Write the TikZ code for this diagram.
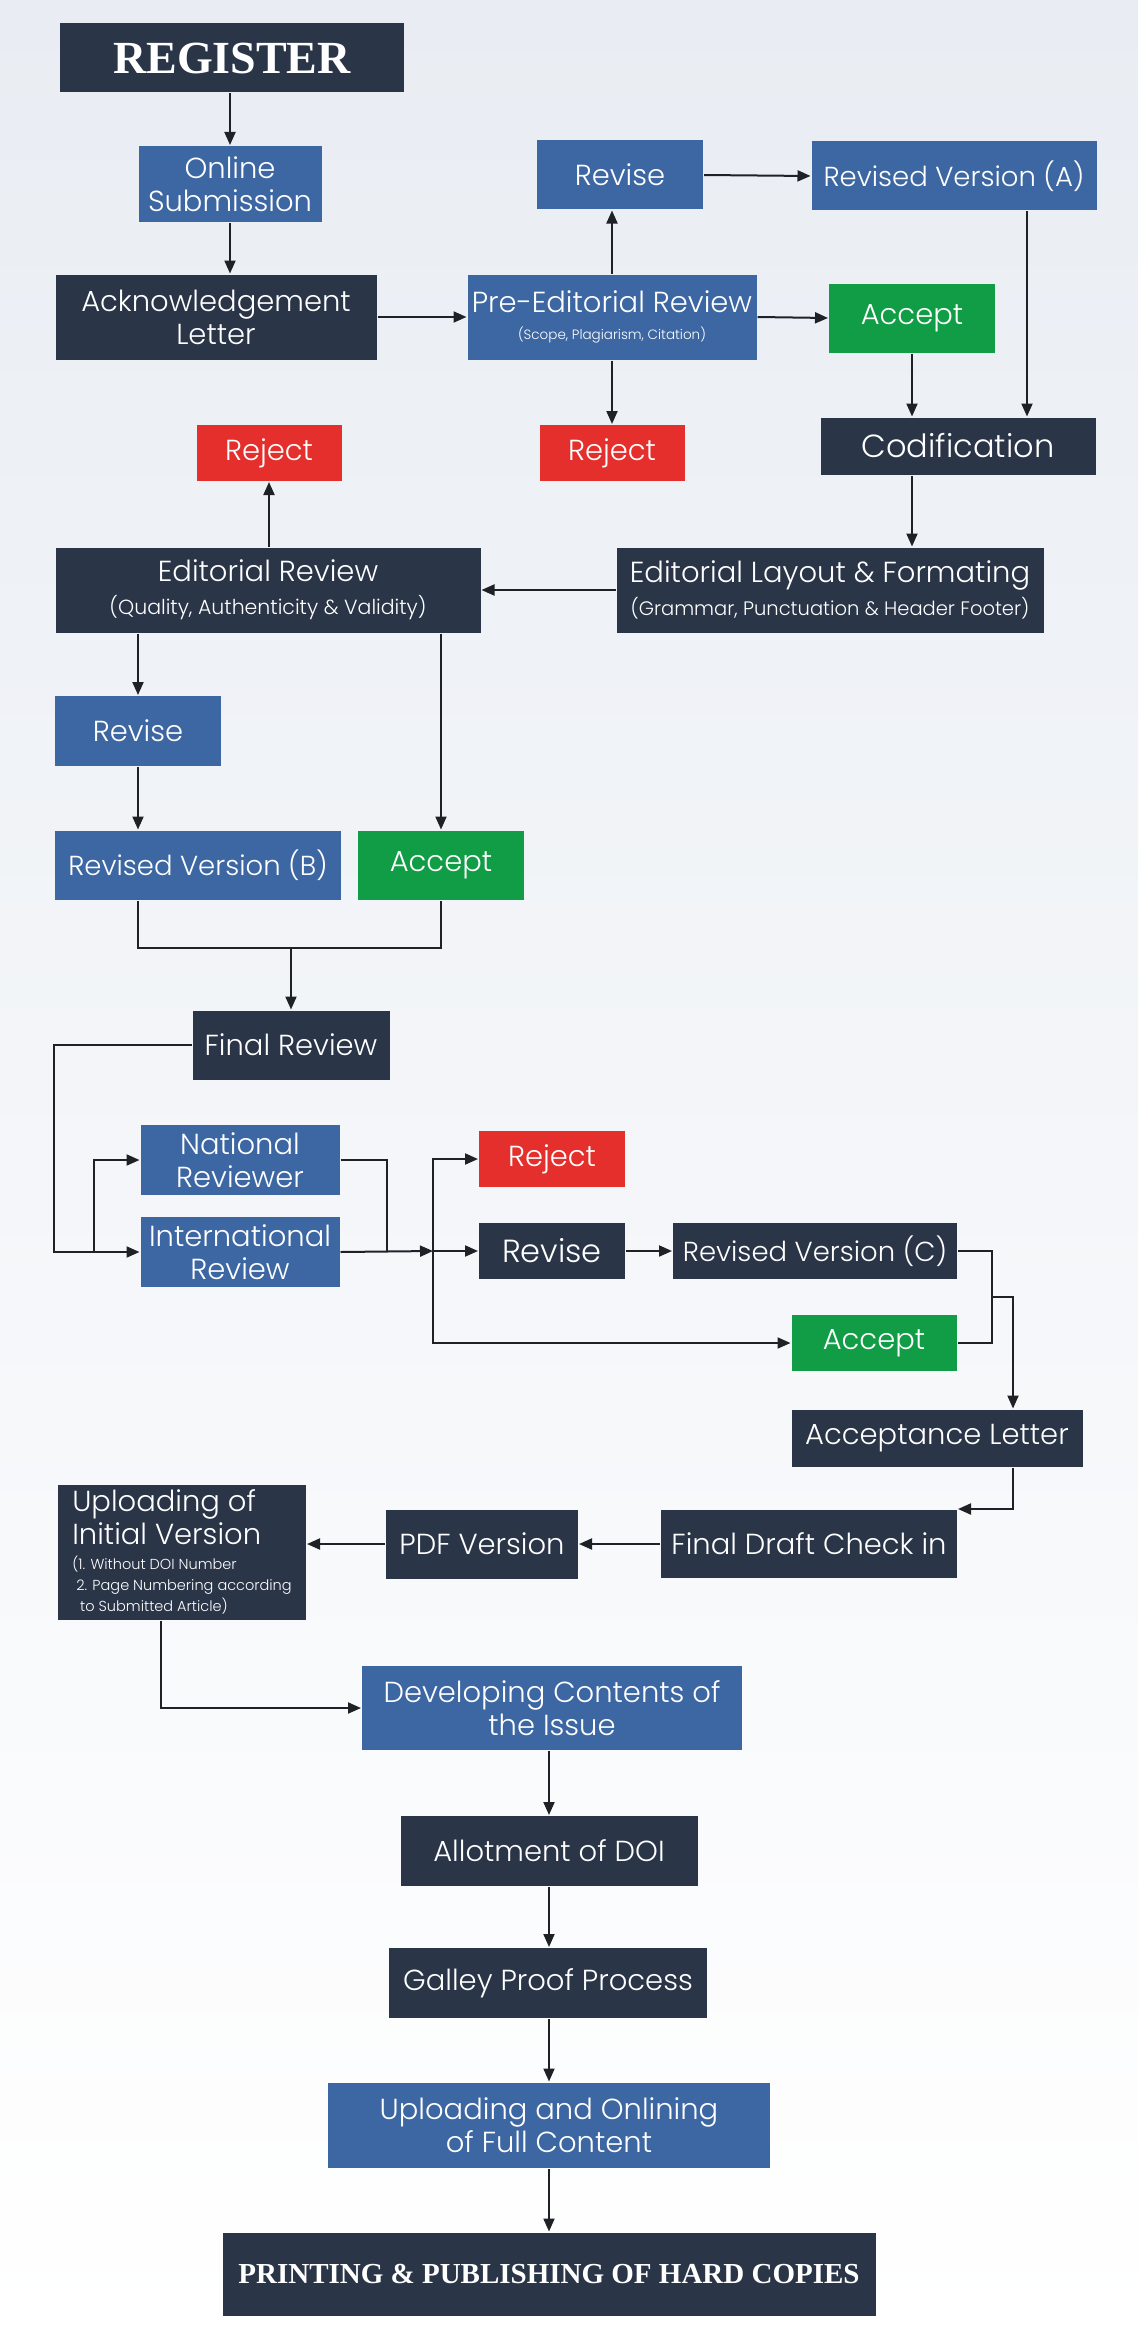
\documentclass[tikz,border=0pt]{standalone}
\usepackage{fontspec}
\setmainfont{Poppins}[UprightFont={* Light}]
\newfontfamily\headfont{Liberation Serif}
\usetikzlibrary{arrows.meta}
\definecolor{navy}{HTML}{2A3548}
\definecolor{steel}{HTML}{3D67A3}
\definecolor{leaf}{HTML}{119D46}
\definecolor{alert}{HTML}{E42F2C}
\definecolor{bgtop}{HTML}{E9EDF3}
\definecolor{bgmid}{HTML}{EDF0F4}
\definecolor{wire}{HTML}{1E2227}
\tikzset{
  box/.style={text=white,inner sep=2pt,align=center,font=\fontsize{29}{33}\selectfont},
  darkbox/.style={box,fill=navy},
  bluebox/.style={box,fill=steel},
  greenbox/.style={box,fill=leaf},
  redbox/.style={box,fill=alert},
  arr/.style={-{Triangle[length=13pt,width=11pt]}},
  big/.style={font=\fontsize{32}{36}\selectfont},
  snug/.style={font=\fontsize{27.5}{31}\selectfont}
}
\newcommand{\subline}[2]{{\fontsize{#1}{#1}\selectfont #2}}
\begin{document}
\begin{tikzpicture}[x=1pt,y=-1pt,line width=2pt,color=wire]
\useasboundingbox (0,0) rectangle (1138,2336);
\shade[top color=bgtop,middle color=bgmid,bottom color=white] (0,0) rectangle (1138,2336);

\node(reg)[darkbox,minimum width=344pt,minimum height=69pt,font=\headfont\bfseries\fontsize{46}{50}\selectfont] at (232,58){REGISTER};
\node(online)[bluebox,minimum width=183pt,minimum height=76pt] at (230,184){Online\\Submission};
\node(ack)[darkbox,minimum width=321pt,minimum height=85pt] at (216,317){Acknowledgement\\Letter};
\node(pre)[bluebox,minimum width=289pt,minimum height=85pt] at (612,317){Pre-Editorial Review\\[-6pt]\subline{13.5}{(Scope, Plagiarism, Citation)}};
\node(reviseA)[bluebox,minimum width=166pt,minimum height=69pt] at (620,175){Revise};
\node(revA)[bluebox,snug,minimum width=285pt,minimum height=69pt] at (954,176){Revised Version (A)};
\node(acceptA)[greenbox,minimum width=166pt,minimum height=69pt] at (912,318){Accept};
\node(rejectE)[redbox,minimum width=145pt,minimum height=56pt] at (269,453){Reject};
\node(rejectP)[redbox,minimum width=145pt,minimum height=56pt] at (612,453){Reject};
\node(codif)[darkbox,big,minimum width=275pt,minimum height=57pt] at (958,446){Codification};
\node(edrev)[darkbox,minimum width=425pt,minimum height=85pt] at (268,590){Editorial Review\\\subline{20.5}{(Quality, Authenticity \& Validity)}};
\node(layout)[darkbox,minimum width=427pt,minimum height=85pt] at (830,590){Editorial Layout \& Formating\\\subline{19.5}{(Grammar, Punctuation \& Header Footer)}};
\node(reviseB)[bluebox,minimum width=166pt,minimum height=70pt] at (138,731){Revise};
\node(revB)[bluebox,snug,minimum width=286pt,minimum height=69pt] at (198,865){Revised Version (B)};
\node(acceptB)[greenbox,minimum width=166pt,minimum height=69pt] at (441,865){Accept};
\node(final)[darkbox,minimum width=197pt,minimum height=69pt] at (291,1045){Final Review};
\node(natl)[bluebox,minimum width=199pt,minimum height=70pt] at (240,1160){National\\Reviewer};
\node(intl)[bluebox,minimum width=199pt,minimum height=70pt] at (240,1252){International\\Review};
\node(rejectC)[redbox,minimum width=146pt,minimum height=56pt] at (552,1159){Reject};
\node(reviseC)[darkbox,big,minimum width=146pt,minimum height=56pt] at (552,1251){Revise};
\node(revC)[darkbox,snug,minimum width=284pt,minimum height=56pt] at (815,1251){Revised Version (C)};
\node(acceptC)[greenbox,minimum width=165pt,minimum height=56pt] at (874,1343){Accept};
\node(accl)[darkbox,minimum width=291pt,minimum height=57pt] at (937,1438){Acceptance Letter};
\node(draft)[darkbox,minimum width=296pt,minimum height=68pt] at (809,1544){Final Draft Check in};
\node(pdf)[darkbox,minimum width=192pt,minimum height=69pt] at (482,1544){PDF Version};
\node(upl)[darkbox,align=left,minimum width=248pt,minimum height=135pt] at (182,1552){Uploading of\\Initial Version\\[-8pt]\subline{14.5}{(1. Without DOI Number}\\[-12pt]\subline{14.5}{\ 2. Page Numbering according}\\[-12pt]\subline{14.5}{\ \ to Submitted Article)}};
\node(dev)[bluebox,minimum width=380pt,minimum height=84pt] at (552,1708){Developing Contents of\\the Issue};
\node(doi)[darkbox,minimum width=297pt,minimum height=70pt] at (549,1851){Allotment of DOI};
\node(galley)[darkbox,minimum width=318pt,minimum height=70pt] at (548,1983){Galley Proof Process};
\node(onl)[bluebox,minimum width=442pt,minimum height=85pt] at (549,2125){Uploading and Onlining\\of Full Content};
\node(print)[darkbox,minimum width=653pt,minimum height=83pt,font=\headfont\bfseries\fontsize{29}{32}\selectfont] at (549,2274){PRINTING \& PUBLISHING OF HARD COPIES};

\draw[arr] (online.north |- reg.south) -- (online.north);
\draw[arr] (online.south) -- (online.south |- ack.north);
\draw[arr] (ack.east) -- (pre.west);
\draw[arr] (pre.north) -- (pre.north |- reviseA.south);
\draw[arr] (pre.south) -- (pre.south |- rejectP.north);
\draw[arr] (pre.east) -- (acceptA.west);
\draw[arr] (reviseA.east) -- (revA.west);
\draw[arr] (acceptA.south) -- (acceptA.south |- codif.north);
\draw[arr] ([xshift=73pt]revA.south) -- ([xshift=73pt]revA.south |- codif.north);
\draw[arr] (acceptA.south |- codif.south) -- (acceptA.south |- layout.north);
\draw[arr] (layout.west) -- (edrev.east);
\draw[arr] (rejectE.south |- edrev.north) -- (rejectE.south);
\draw[arr] (reviseB.north |- edrev.south) -- (reviseB.north);
\draw[arr] (acceptB.north |- edrev.south) -- (acceptB.north);
\draw[arr] (reviseB.south) -- (reviseB.south |- revB.north);
\coordinate (merge) at (291,948);
\draw (reviseB.south |- revB.south) |- (merge) -| (acceptB.south);
\draw[arr] (merge) -- (final.north);
\draw[arr] (final.west) -- ++(-138,0) |- (intl.west);
\draw[arr] ([xshift=-46pt]intl.west) |- (natl.west);
\coordinate (split) at (433,1251);
\draw (natl.east) -| ([xshift=46pt]intl.east);
\draw[arr] (intl.east) -- (split);
\draw[arr] (split) |- (rejectC.west);
\draw[arr] (split) -- (reviseC.west);
\draw[arr] (split) |- (acceptC.west);
\draw[arr] (reviseC.east) -- (revC.west);
\coordinate (join) at (992,1297);
\draw (revC.east) -| (join) |- (acceptC.east);
\draw[arr] (join) -| ([xshift=76pt]accl.north);
\draw[arr] ([xshift=76pt]accl.south) |- (draft.north east);
\draw[arr] (draft.west) -- (pdf.east);
\draw[arr] (pdf.west) -- (pdf.west -| upl.east);
\draw[arr] ([xshift=-21pt]upl.south) |- (dev.west);
\draw[arr] (doi.north |- dev.south) -- (doi.north);
\draw[arr] (doi.south) -- (doi.south |- galley.north);
\draw[arr] (doi.south |- galley.south) -- (doi.south |- onl.north);
\draw[arr] (doi.south |- onl.south) -- (doi.south |- print.north);
\end{tikzpicture}
\end{document}
